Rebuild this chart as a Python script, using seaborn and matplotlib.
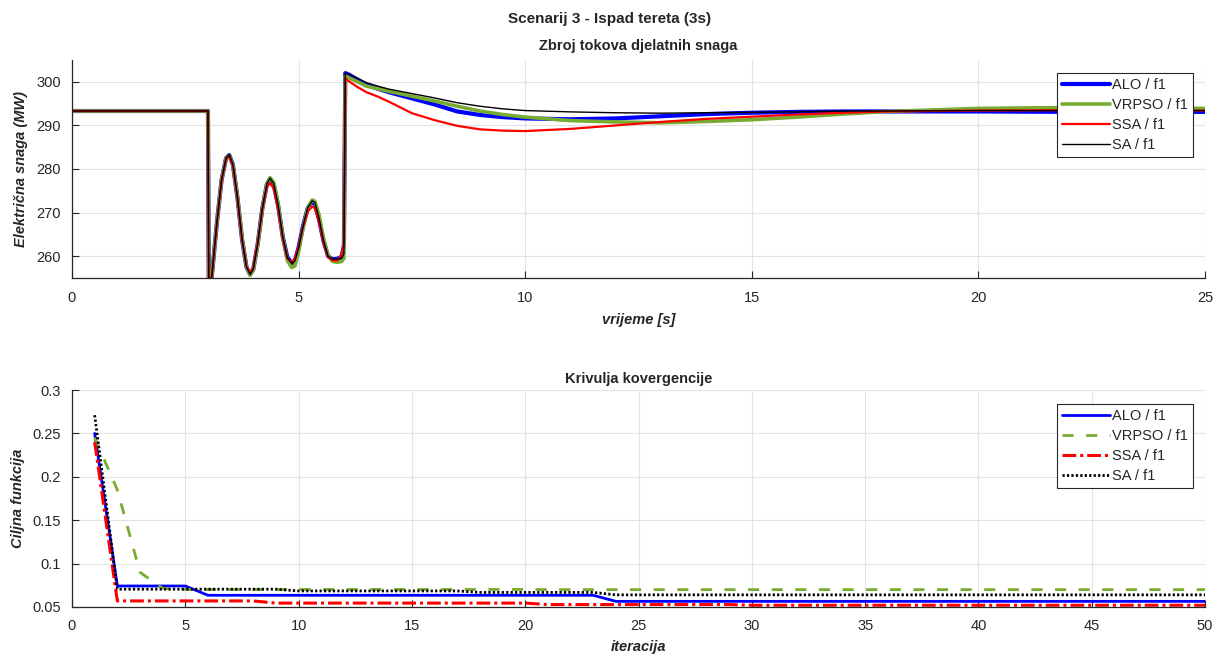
import numpy as np
import pandas as pd
import matplotlib.pyplot as plt
import seaborn as sns

sns.set_theme(style="whitegrid")
plt.rcParams['font.family'] = ['Liberation Sans', 'DejaVu Sans']
plt.rcParams['axes.edgecolor'] = '#262626'
plt.rcParams['xtick.color'] = '#262626'
plt.rcParams['ytick.color'] = '#262626'
plt.rcParams['grid.color'] = '#e3e3e3'
plt.rcParams['grid.linewidth'] = 0.8

# ---------------- data: simulacija (gornji graf) ----------------
t_sim = [0, 3.0, 3.02, 3.1, 3.2, 3.3, 3.4, 3.47, 3.55, 3.65, 3.75, 3.85, 3.93, 4.0,
         4.1, 4.2, 4.3, 4.37, 4.45, 4.55, 4.65, 4.75, 4.85, 4.92, 5.0, 5.1, 5.2, 5.3,
         5.36, 5.45, 5.55, 5.65, 5.75, 5.85, 5.95, 6.0, 6.03, 6.1, 6.3, 6.5, 6.75, 7.0,
         7.5, 8.0, 8.5, 9.0, 9.5, 10.0, 11.0, 12.0, 13.0, 14.0, 15.0, 16.0, 17.0, 18.0,
         20.0, 22.0, 25.0]

p_alo = [293.3, 293.3, 250, 257, 268, 277.5, 282.5, 283.2, 281, 273.5, 264, 257.5, 255.8, 257,
         263, 271, 276.5, 277.8, 276.5, 271.5, 264.5, 259.8, 258.4, 259, 262, 267, 271, 272.5,
         272, 268.5, 263.5, 260, 259.3, 259.4, 259.8, 262.5, 302, 301.7, 300.5, 299.3, 298.4, 297.6,
         296.2, 294.8, 293.2, 292.4, 291.9, 291.6, 291.4, 291.6, 292.1, 292.6, 292.9, 293.1, 293.2, 293.2,
         293.2, 293.1, 293.1]

p_vrpso = [293.3, 293.3, 250, 257, 268, 277.5, 282.5, 283.1, 281, 273.7, 264.3, 257.6, 255.6, 256.8,
           262.8, 270.8, 276.6, 278, 277, 272, 264.5, 259, 257.4, 257.8, 261, 266.5, 271, 272.9,
           272.6, 269.5, 264, 260.2, 258.8, 258.6, 258.8, 259.5, 301.3, 301, 300, 299, 298.4, 297.8,
           296.7, 295.6, 294.4, 293.3, 292.5, 291.9, 291.1, 290.8, 290.6, 290.9, 291.3, 291.9, 292.6, 293.2,
           293.9, 294.1, 293.9]

p_ssa = [293.3, 293.3, 250, 257, 268, 277.3, 282.3, 283, 280.8, 273.3, 264, 257.7, 256.2, 257.5,
         263.3, 270.8, 275.8, 276.8, 275.5, 270.8, 264, 259.5, 258.6, 259.6, 262.3, 266.8, 270.2, 271.4,
         271, 267.8, 263, 259.8, 259, 259, 260.5, 263, 300.8, 300.2, 298.8, 297.6, 296.6, 295.4,
         292.8, 291.2, 289.9, 289.1, 288.8, 288.7, 289.2, 290.0, 290.8, 291.5, 292.0, 292.5, 292.9, 293.2,
         293.4, 293.5, 293.4]

p_sa = [293.3, 293.3, 250, 257, 268, 277.5, 282.6, 283.3, 281.1, 273.6, 264.1, 257.5, 255.8, 257,
        263, 271, 276.6, 277.9, 276.7, 271.7, 264.6, 259.7, 258.3, 258.9, 261.8, 267, 271.1, 272.7,
        272.3, 268.8, 263.6, 260, 259.3, 259.3, 259.5, 260.5, 302, 301.8, 300.8, 299.8, 299.0, 298.3,
        297.3, 296.3, 295.2, 294.4, 293.8, 293.4, 293.1, 292.9, 292.8, 292.9, 293.0, 293.1, 293.3, 293.3,
        293.4, 293.4, 293.4]

# ---------------- data: krivulja konvergencije (donji graf) ----------------
iteracije = list(range(1, 51))

f_alo = [0.250, 0.0742, 0.0742, 0.0742, 0.0742, 0.0635, 0.0635, 0.0635, 0.0635, 0.0635,
         0.0635, 0.0635, 0.0635, 0.0635, 0.0635, 0.0635, 0.0635, 0.0635, 0.0635, 0.0635,
         0.0635, 0.0635, 0.0635, 0.0565, 0.0565, 0.0565, 0.0565, 0.0565, 0.0565, 0.0565,
         0.0565, 0.0565, 0.0565, 0.0565, 0.0565, 0.0565, 0.0565, 0.0565, 0.0565, 0.0565,
         0.0565, 0.0565, 0.0565, 0.0565, 0.0565, 0.0565, 0.0565, 0.0565, 0.0565, 0.0565]

f_vrpso = [0.245, 0.185, 0.090, 0.0715, 0.0702, 0.0702, 0.0702, 0.0702, 0.0702, 0.0702,
           0.0702, 0.0702, 0.0702, 0.0702, 0.0702, 0.0702, 0.0702, 0.0702, 0.0702, 0.0702,
           0.0700, 0.0700, 0.0700, 0.0700, 0.0700, 0.0700, 0.0700, 0.0700, 0.0700, 0.0700,
           0.0700, 0.0700, 0.0700, 0.0700, 0.0700, 0.0700, 0.0700, 0.0700, 0.0700, 0.0700,
           0.0700, 0.0700, 0.0700, 0.0700, 0.0700, 0.0700, 0.0700, 0.0700, 0.0700, 0.0700]

f_ssa = [0.240, 0.0570, 0.0570, 0.0570, 0.0570, 0.0570, 0.0570, 0.0570, 0.0545, 0.0545,
         0.0545, 0.0545, 0.0545, 0.0545, 0.0545, 0.0545, 0.0545, 0.0545, 0.0545, 0.0545,
         0.0528, 0.0528, 0.0528, 0.0528, 0.0528, 0.0528, 0.0528, 0.0528, 0.0528, 0.0520,
         0.0520, 0.0520, 0.0520, 0.0520, 0.0520, 0.0520, 0.0520, 0.0520, 0.0520, 0.0520,
         0.0520, 0.0520, 0.0520, 0.0520, 0.0520, 0.0520, 0.0520, 0.0520, 0.0520, 0.0520]

f_sa = [0.271, 0.0705, 0.0705, 0.0705, 0.0705, 0.0705, 0.0705, 0.0705, 0.0705, 0.0685,
        0.0685, 0.0685, 0.0685, 0.0685, 0.0685, 0.0685, 0.0685, 0.0668, 0.0668, 0.0668,
        0.0668, 0.0668, 0.0668, 0.0640, 0.0640, 0.0640, 0.0640, 0.0640, 0.0640, 0.0640,
        0.0640, 0.0640, 0.0640, 0.0640, 0.0640, 0.0640, 0.0640, 0.0640, 0.0640, 0.0640,
        0.0640, 0.0640, 0.0640, 0.0640, 0.0640, 0.0640, 0.0640, 0.0640, 0.0640, 0.0640]

labels = ['ALO / f1', 'VRPSO / f1', 'SSA / f1', 'SA / f1']
c_blue = '#0000ff'
c_green = '#77ac30'
c_red = '#ff0000'
c_black = '#000000'

# ---------------- figure ----------------
fig = plt.figure(figsize=(12.2, 6.64), dpi=100)
W, H = 1220, 664
ax1 = fig.add_axes([72 / W, 1 - 278 / H, 1133 / W, 218 / H])
ax2 = fig.add_axes([72 / W, 1 - 607 / H, 1133 / W, 217 / H])

# gornji graf
sns.lineplot(x=t_sim, y=p_alo, ax=ax1, color=c_blue, lw=3.0, sort=False, estimator=None, label=labels[0])
sns.lineplot(x=t_sim, y=p_vrpso, ax=ax1, color=c_green, lw=2.6, sort=False, estimator=None, label=labels[1])
sns.lineplot(x=t_sim, y=p_ssa, ax=ax1, color=c_red, lw=1.6, sort=False, estimator=None, label=labels[2])
sns.lineplot(x=t_sim, y=p_sa, ax=ax1, color=c_black, lw=1.0, sort=False, estimator=None, label=labels[3])

ax1.set_xlim(0, 25)
ax1.set_ylim(255, 305)
ax1.set_xticks(np.arange(0, 26, 5))
ax1.set_yticks(np.arange(260, 301, 10))
ax1.set_title('Zbroj tokova djelatnih snaga', fontsize=10.5, fontweight='bold', pad=7)
ax1.set_xlabel('vrijeme [s]', fontsize=10.5, fontweight='bold', style='italic', labelpad=6)
ax1.set_ylabel('Električna snaga (MW)', fontsize=10.5, fontweight='bold', style='italic', labelpad=6)

# donji graf
sns.lineplot(x=iteracije, y=f_alo, ax=ax2, color=c_blue, lw=2.0, sort=False, estimator=None, label=labels[0])
sns.lineplot(x=iteracije, y=f_vrpso, ax=ax2, color=c_green, lw=2.0, sort=False, estimator=None, label=labels[1])
ax2.lines[-1].set_dashes((4, 4.5))
sns.lineplot(x=iteracije, y=f_ssa, ax=ax2, color=c_red, lw=2.2, sort=False, estimator=None, label=labels[2])
ax2.lines[-1].set_dashes((4.5, 1.3, 1, 1.3))
sns.lineplot(x=iteracije, y=f_sa, ax=ax2, color=c_black, lw=2.0, sort=False, estimator=None, label=labels[3])
ax2.lines[-1].set_dashes((0.8, 0.8))

ax2.set_xlim(0, 50)
ax2.set_ylim(0.05, 0.3)
ax2.set_xticks(np.arange(0, 51, 5))
ax2.set_yticks([0.05, 0.1, 0.15, 0.2, 0.25, 0.3])
ax2.set_yticklabels(['0.05', '0.1', '0.15', '0.2', '0.25', '0.3'])
ax2.set_title('Krivulja kovergencije', fontsize=10.5, fontweight='bold', pad=5)
ax2.set_xlabel('iteracija', fontsize=10.5, fontweight='bold', style='italic', labelpad=5)
ax2.set_ylabel('Ciljna funkcija', fontsize=10.5, fontweight='bold', style='italic', labelpad=5)

for ax, top_off in [(ax1, 13 / 218), (ax2, 14 / 217)]:
    ax.set_facecolor('white')
    ax.grid(True, color='#e3e3e3', lw=0.8)
    ax.spines['top'].set_visible(False)
    ax.spines['right'].set_visible(False)
    ax.spines['left'].set_color('#262626')
    ax.spines['bottom'].set_color('#262626')
    ax.spines['left'].set_linewidth(0.9)
    ax.spines['bottom'].set_linewidth(0.9)
    ax.tick_params(direction='in', length=5, width=0.8, labelsize=10.5,
                   left=True, bottom=True, colors='#262626')
    ax.tick_params(axis='y', pad=8)
    ax.tick_params(axis='x', pad=9)
    leg = ax.legend(loc='upper right', bbox_to_anchor=(1 - 12 / 1133, 1 - top_off),
                    borderaxespad=0, fontsize=10.5, frameon=True, fancybox=False,
                    edgecolor='#262626', framealpha=1, handlelength=3.3,
                    handletextpad=0.15, labelspacing=0.4, borderpad=0.35)
    leg.get_frame().set_linewidth(0.8)

fig.suptitle('Scenarij 3 - Ispad tereta (3s)', fontsize=11, fontweight='bold', y=1 - 19 / H, va='center')

fig.savefig('out.png', dpi=100, facecolor='white')
